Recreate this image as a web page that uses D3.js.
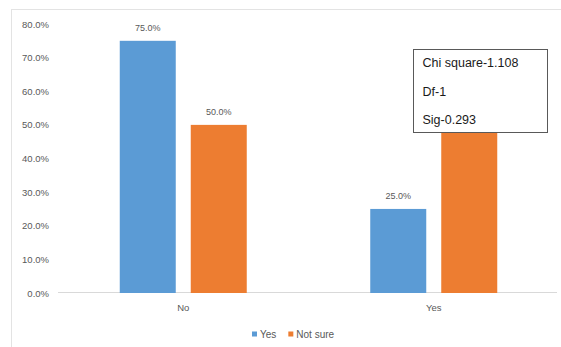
<!DOCTYPE html>
<html>
<head>
<meta charset="utf-8">
<script src="https://cdn.jsdelivr.net/npm/d3@7"></script>
<style>
  html, body { margin: 0; padding: 0; background: #fff; }
  svg { display: block; }
  text { font-family: "Liberation Sans", "DejaVu Sans", sans-serif; }
</style>
</head>
<body>
<svg id="chart" width="561" height="347"></svg>
<script>
// Response groups along the x axis
const categories = ["No", "Yes"];
// Series and their percentage values per group
const seriesNames = ["Yes", "Not sure"];
const yesValues = [75.0, 25.0];
const notSureValues = [50.0, 50.0];
// Y axis ticks
const yTicks = [0, 10, 20, 30, 40, 50, 60, 70, 80];
// Statistics box lines
const statLines = ["Chi square-1.108", "Df-1", "Sig-0.293"];

const colors = { "Yes": "#5B9BD5", "Not sure": "#ED7D31" };
const seriesValues = { "Yes": yesValues, "Not sure": notSureValues };

const svg = d3.select("#chart");

// light chart-area frame
svg.append("rect")
  .attr("x", 11.5).attr("y", 9.5)
  .attr("width", 620).attr("height", 400)
  .attr("fill", "none").attr("stroke", "#e3e3e3");

const plot = { left: 58, right: 559, top: 24, bottom: 293 };

const x0 = d3.scaleBand().domain(categories).range([plot.left, plot.right]).paddingInner(0).paddingOuter(0);
const y = d3.scaleLinear().domain([0, 80]).range([plot.bottom, plot.top]);

// inner scale: two bars of 56px with 15px gap centred in each band
const groupWidth = 127;
const x1 = d3.scaleBand().domain(seriesNames).range([0, groupWidth]).paddingInner(15 / 71).paddingOuter(0);

// y axis labels (no line, no ticks)
const yAxis = d3.axisLeft(y).tickValues(yTicks).tickFormat(d => d.toFixed(1) + "%").tickSize(0).tickPadding(6);
const ya = svg.append("g").attr("transform", `translate(${plot.left - 3},0)`).call(yAxis);
ya.select(".domain").remove();
ya.selectAll("text").attr("fill", "#595959").attr("font-size", 9.5);

// baseline
svg.append("line")
  .attr("x1", plot.left).attr("x2", plot.right - 2)
  .attr("y1", y(0) - 0.5).attr("y2", y(0) - 0.5)
  .attr("stroke", "#d9d9d9");

// bars
const groups = svg.append("g").selectAll("g").data(categories).join("g")
  .attr("transform", d => `translate(${x0(d) + (x0.bandwidth() - groupWidth) / 2},0)`);

groups.each(function(cat, i) {
  const g = d3.select(this);
  seriesNames.forEach(s => {
    const v = seriesValues[s][i];
    g.append("rect")
      .attr("x", x1(s)).attr("width", x1.bandwidth())
      .attr("y", y(v)).attr("height", y(0) - y(v))
      .attr("fill", colors[s]);
    g.append("text")
      .attr("x", x1(s) + x1.bandwidth() / 2)
      .attr("y", y(v) - 10)
      .attr("text-anchor", "middle")
      .attr("font-size", 9)
      .attr("fill", "#595959")
      .text(v.toFixed(1) + "%");
  });
});

// category labels
svg.append("g").selectAll("text").data(categories).join("text")
  .attr("x", d => x0(d) + x0.bandwidth() / 2)
  .attr("y", 311)
  .attr("text-anchor", "middle")
  .attr("font-size", 9.5)
  .attr("fill", "#595959")
  .text(d => d);

// legend
const legend = svg.append("g").attr("transform", "translate(252,334)");
let lx = 0;
seriesNames.forEach(s => {
  legend.append("rect").attr("x", lx).attr("y", -2.5).attr("width", 5).attr("height", 5).attr("fill", colors[s]);
  const t = legend.append("text").attr("x", lx + 8).attr("y", 3.5)
    .attr("font-size", 10).attr("fill", "#595959").text(s);
  lx += 8 + t.node().getComputedTextLength() + 12;
});

// statistics box
const box = svg.append("g").attr("transform", "translate(413.5,49.5)");
box.append("rect").attr("width", 134).attr("height", 83)
  .attr("fill", "#fff").attr("stroke", "#595959").attr("stroke-width", 1);
box.selectAll("text").data(statLines).join("text")
  .attr("x", 9)
  .attr("y", (d, i) => 17.5 + i * 28.5)
  .attr("font-size", 12.5)
  .attr("fill", "#1a1a1a")
  .text(d => d);
</script>
</body>
</html>
